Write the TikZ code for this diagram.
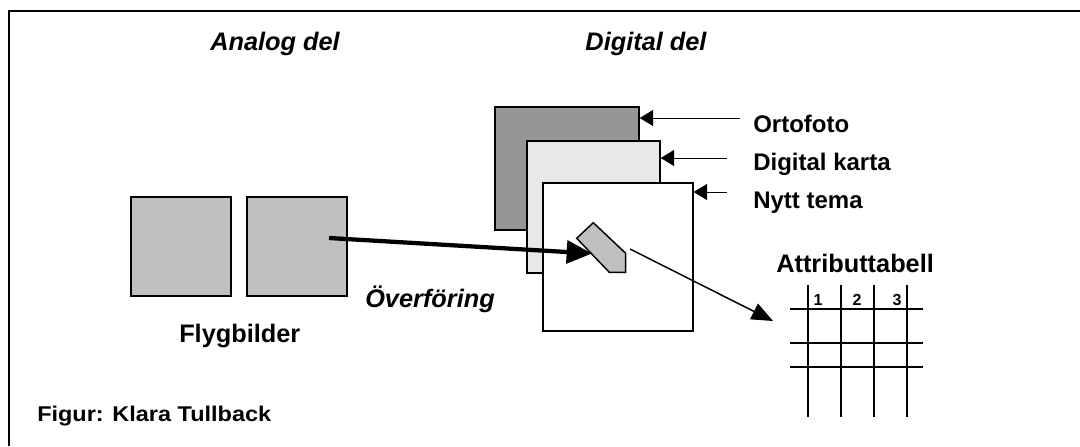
\documentclass[tikz,border=0pt]{standalone}
\usepackage{fontspec}
\setmainfont{Liberation Sans}
\usetikzlibrary{arrows.meta}

\newdimen\pxu \pxu=0.75pt
\definecolor{fotogray}{RGB}{150,150,150}
\definecolor{kartgray}{RGB}{232,232,232}
\definecolor{bildgray}{RGB}{192,192,192}
\tikzset{
  sheet/.style={draw,line width=1.1pt,inner sep=0pt},
  lbl/.style={font=\fontsize{18}{20}\selectfont\bfseries,inner sep=0pt,anchor=base west},
  ilbl/.style={lbl,font=\fontsize{19}{21}\selectfont\bfseries\itshape},
  pil/.style={-{Triangle[length=10pt,width=12pt]},line width=0.75pt},
}

\begin{document}
\begin{tikzpicture}[x=0.75pt,y=-0.75pt]
\useasboundingbox (0,0) rectangle (1080,446);
\draw[line width=1.5pt] (1080,11) -- (9,11) -- (9,446);

\node[ilbl,anchor=base](analog) at (275,50){Analog del};
\node[ilbl,anchor=base](digital) at (646,50){Digital del};

\node[sheet,fill=bildgray,minimum width=100\pxu,minimum height=99\pxu](flyg1) at (181,246.5){};
\node[sheet,fill=bildgray,minimum width=100\pxu,minimum height=99\pxu](flyg2) at (297,246.5){};
\node[lbl,font=\fontsize{19}{21}\selectfont\bfseries](flyglbl) at (179,342){Flygbilder};
\node[ilbl](overf) at (365,307){Överföring};

\node[sheet,fill=fotogray,minimum width=144\pxu,minimum height=123\pxu](orto) at (567,168.5){};
\node[sheet,fill=kartgray,minimum width=133\pxu,minimum height=132\pxu](karta) at (593.5,207){};
\node[sheet,fill=white,minimum width=150\pxu,minimum height=148\pxu](tema) at (618,257){};

\node[lbl](ortolbl) at (753,132){Ortofoto};
\node[lbl](kartalbl) at (753,170){Digital karta};
\node[lbl](temalbl) at (753,208){Nytt tema};
\coordinate (o1) at (740,118);
\coordinate (k1) at (727,158);
\coordinate (t1) at (727,192);
\draw[pil] (o1) -- (o1 -| orto.east);
\draw[pil] (k1) -- (k1 -| karta.east);
\draw[pil] (t1) -- (t1 -| tema.east);

\coordinate (from) at (329,238);
\coordinate (into) at (592,253.5);
\draw[line width=3.2pt,-{Triangle[length=19pt,width=17pt]}] (from) -- (into);
\draw[line width=1.1pt,fill=bildgray] (576.7,238.3) -- (593.3,222.7) -- (625.7,253.3)
  -- (625.7,272.3) -- (609.3,272.3) -- cycle;
\coordinate (obj) at (630,249);
\coordinate (tab) at (773,321);
\draw[line width=1.1pt,-{Triangle[length=16pt,width=13pt]}] (obj) -- (tab);

\node[lbl,font=\fontsize{19}{21}\selectfont\bfseries](attrlbl) at (776,272){Attributtabell};
\foreach \x in {808,841,874,907}
  \draw[line width=1.1pt] (\x,285) -- (\x,417);
\foreach \y in {309,343,367}
  \draw[line width=1.1pt] (790,\y) -- (923,\y);
\foreach \x/\n in {818/1,857/2,897/3}
  \node[font=\fontsize{12}{14}\selectfont\bfseries,inner sep=0pt,anchor=base](col\n) at (\x,305){\n};

\node[lbl,font=\fontsize{16}{18}\selectfont\bfseries,xscale=1.1](figur) at (37,421){Figur: Klara Tullback};
\end{tikzpicture}
\end{document}
